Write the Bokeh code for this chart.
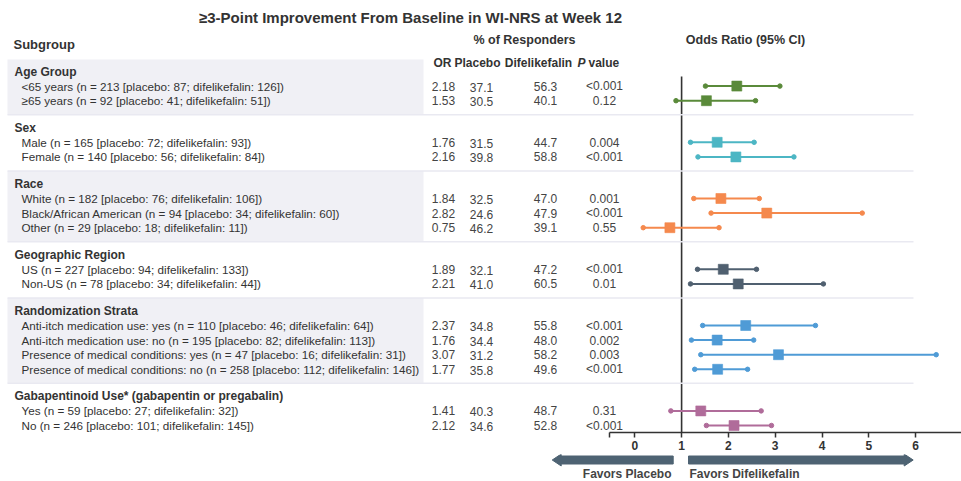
from bokeh.plotting import figure
from bokeh.models import Range1d, LinearAxis, FixedTicker
from bokeh.layouts import column
from bokeh.embed import file_html
from bokeh.resources import INLINE
from bokeh.core.properties import value

# ---------------- data ----------------
title_text = "≥3-Point Improvement From Baseline in WI-NRS at Week 12"
group_names = ["Age Group", "Sex", "Race", "Geographic Region",
               "Randomization Strata", "Gabapentinoid Use* (gabapentin or pregabalin)"]
group_sizes = [2, 2, 3, 2, 4, 2]
group_colors = ["#5a8a3a", "#4cb6c4", "#f5894d", "#506070", "#4f9bd6", "#b06c9a"]
subgroups = [
    "<65 years (n = 213 [placebo: 87; difelikefalin: 126])",
    "≥65 years (n = 92 [placebo: 41; difelikefalin: 51])",
    "Male (n = 165 [placebo: 72; difelikefalin: 93])",
    "Female (n = 140 [placebo: 56; difelikefalin: 84])",
    "White (n = 182 [placebo: 76; difelikefalin: 106])",
    "Black/African American (n = 94 [placebo: 34; difelikefalin: 60])",
    "Other (n = 29 [placebo: 18; difelikefalin: 11])",
    "US (n = 227 [placebo: 94; difelikefalin: 133])",
    "Non-US (n = 78 [placebo: 34; difelikefalin: 44])",
    "Anti-itch medication use: yes (n = 110 [placebo: 46; difelikefalin: 64])",
    "Anti-itch medication use: no (n = 195 [placebo: 82; difelikefalin: 113])",
    "Presence of medical conditions: yes (n = 47 [placebo: 16; difelikefalin: 31])",
    "Presence of medical conditions: no (n = 258 [placebo: 112; difelikefalin: 146])",
    "Yes (n = 59 [placebo: 27; difelikefalin: 32])",
    "No (n = 246 [placebo: 101; difelikefalin: 145])",
]
odds_ratio = [2.18, 1.53, 1.76, 2.16, 1.84, 2.82, 0.75, 1.89, 2.21, 2.37, 1.76, 3.07, 1.77, 1.41, 2.12]
ci_low = [1.51, 0.88, 1.19, 1.35, 1.26, 1.63, 0.18, 1.34, 1.19, 1.45, 1.21, 1.41, 1.28, 0.77, 1.53]
ci_high = [3.10, 2.58, 2.55, 3.40, 2.66, 4.86, 1.80, 2.60, 4.03, 3.86, 2.54, 6.44, 2.41, 2.70, 2.92]
pct_placebo = [37.1, 30.5, 31.5, 39.8, 32.5, 24.6, 46.2, 32.1, 41.0, 34.8, 34.4, 31.2, 35.8, 40.3, 34.6]
pct_difelikefalin = [56.3, 40.1, 44.7, 58.8, 47.0, 47.9, 39.1, 47.2, 60.5, 55.8, 48.0, 58.2, 49.6, 48.7, 52.8]
p_values = ["<0.001", "0.12", "0.004", "<0.001", "0.001", "<0.001", "0.55", "<0.001", "0.01",
            "<0.001", "0.002", "0.003", "<0.001", "0.31", "<0.001"]
x_ticks = [0, 1, 2, 3, 4, 5, 6, 7]

# ---------------- layout constants (screen pixels) ----------------
FONT = "Liberation Sans"
W, H_TOP, H_BOT = 961, 454, 27
FRAME_BOTTOM = 432
ORIGIN_PX, UNIT_PX = 634.3, 46.8


def px_to_or(px):
    return (px - ORIGIN_PX) / UNIT_PX


row_step, group_gap = 14.6, 12.4
header_y, item_y, seps, item_colors = [], [], [], []
y = 71.0
for n, c in zip(group_sizes, group_colors):
    header_y.append(y)
    for k in range(n):
        item_y.append(y + row_step * (k + 1))
        item_colors.append(c)
    last = y + row_step * n
    seps.append(last + 14)
    y = last + row_step + group_gap

band_tops = [header_y[0] - 12] + seps[:-1]
band_bottoms = seps

p = figure(width=W, height=H_TOP,
           x_range=Range1d(px_to_or(0), px_to_or(W)),
           y_range=Range1d(FRAME_BOTTOM, 0),
           x_axis_location=None, y_axis_location=None,
           toolbar_location=None, output_backend="svg",
           min_border_left=0, min_border_right=0, min_border_top=0,
           min_border_bottom=H_TOP - FRAME_BOTTOM)
p.extra_x_ranges = {"px": Range1d(0, W)}
p.outline_line_color = None
p.grid.visible = False
p.background_fill_color = "white"
p.border_fill_color = "white"

# shaded bands (alternate groups)
gi = [0, 2, 4]
p.quad(left=[7] * len(gi), right=[423] * len(gi),
       top=[band_tops[i] for i in gi], bottom=[band_bottoms[i] for i in gi],
       x_range_name="px", fill_color="#f0f0f5", line_color=None)

# reference line at OR = 1
p.segment(x0=[1], x1=[1], y0=[76], y1=[FRAME_BOTTOM], line_color="#333333", line_width=1.6)

# separators
p.segment(x0=[7] * (len(seps) - 1), x1=[913] * (len(seps) - 1), y0=seps[:-1], y1=seps[:-1],
          x_range_name="px", line_color="#e9e9f1", line_width=1.5)

# CIs and points
p.segment(x0=ci_low, x1=ci_high, y0=item_y, y1=item_y, line_color=item_colors, line_width=2)
p.scatter(ci_low, item_y, marker="circle", size=4.5, color=item_colors)
p.scatter(ci_high, item_y, marker="circle", size=4.5, color=item_colors)
p.scatter(odds_ratio, item_y, marker="square", size=10, fill_color=item_colors,
          line_color=item_colors, line_alpha=0.6)

txt = dict(x_range_name="px", text_font=value(FONT), text_baseline="middle")

p.text(x=[410], y=[17], text=[title_text], text_font_size="15px", text_font_style="bold",
       text_align="center", text_color="#333333", **txt)
p.text(x=[13], y=[44], text=["Subgroup"], text_font_size="13px", text_font_style="bold",
       text_align="left", text_color="#333333", **txt)
p.text(x=[524, 745], y=[39, 39], text=["% of Responders", "Odds Ratio (95% CI)"],
       text_font_size="12.5px", text_font_style="bold", text_align="center",
       text_color="#333333", **txt)
p.text(x=[442, 477, 538], y=[62] * 3, text=["OR", "Placebo", "Difelikefalin"],
       text_font_size="12px", text_font_style="bold", text_align="center",
       text_color="#333333", **txt)
p.text(x=[577], y=[62], text=["P"], text_font_size="12px", text_font_style="bold italic",
       text_align="left", text_color="#333333", **txt)
p.text(x=[588], y=[62], text=["value"], text_font_size="12px", text_font_style="bold",
       text_align="left", text_color="#333333", **txt)

p.text(x=[14] * len(group_names), y=header_y, text=group_names, text_font_size="12px",
       text_font_style="bold", text_align="left", text_color="#333333", **txt)
p.text(x=[21] * len(subgroups), y=item_y, text=subgroups, text_font_size="11.7px",
       text_align="left", text_color="#333333", **txt)

p.text(x=[443] * len(odds_ratio), y=item_y, text=[f"{v:.2f}" for v in odds_ratio],
       text_font_size="12px", text_align="center", text_color="#444444", **txt)
p.text(x=[481] * len(pct_placebo), y=[v + 1 for v in item_y], text=[f"{v:.1f}" for v in pct_placebo],
       text_font_size="12px", text_align="center", text_color="#444444", **txt)
p.text(x=[545] * len(pct_difelikefalin), y=item_y, text=[f"{v:.1f}" for v in pct_difelikefalin],
       text_font_size="12px", text_align="center", text_color="#444444", **txt)
p.text(x=[604] * len(p_values), y=item_y, text=p_values,
       text_font_size="12px", text_align="center", text_color="#444444", **txt)

ax = LinearAxis(ticker=FixedTicker(ticks=x_ticks, minor_ticks=[-0.54]),
                bounds=(-0.54, px_to_or(W)))
ax.axis_line_color = "#333333"
ax.axis_line_width = 1.5
ax.major_tick_in = 0
ax.major_tick_out = 5
ax.minor_tick_in = 0
ax.minor_tick_out = 5
ax.major_tick_line_color = "#333333"
ax.major_tick_line_width = 1.5
ax.minor_tick_line_color = "#333333"
ax.minor_tick_line_width = 1.5
ax.major_label_standoff = 3
ax.major_label_text_font = FONT
ax.major_label_text_font_size = "12px"
ax.major_label_text_font_style = "bold"
ax.major_label_text_color = "#333333"
p.add_layout(ax, "below")

# ---------------- bottom strip: favours arrows ----------------
q = figure(width=W, height=H_BOT, x_range=p.x_range, y_range=Range1d(H_TOP + H_BOT, H_TOP),
           x_axis_location=None, y_axis_location=None,
           toolbar_location=None, output_backend="svg",
           min_border_left=0, min_border_right=0, min_border_top=0, min_border_bottom=0)
q.outline_line_color = None
q.grid.visible = False

ay, shaft, head, hl = 459.5, 4, 6, 9 / UNIT_PX
l_tail, l_tip = px_to_or(672.7), px_to_or(551.7)
r_tail, r_tip = px_to_or(688), px_to_or(912.7)
xs = [
    [l_tail, l_tip + hl, l_tip + hl, l_tip, l_tip + hl, l_tip + hl, l_tail],
    [r_tail, r_tip - hl, r_tip - hl, r_tip, r_tip - hl, r_tip - hl, r_tail],
]
ys = [
    [ay - shaft, ay - shaft, ay - head, ay, ay + head, ay + shaft, ay + shaft],
    [ay - shaft, ay - shaft, ay - head, ay, ay + head, ay + shaft, ay + shaft],
]
q.patches(xs, ys, fill_color="#4e6373", line_color="#4e6373")
q.text(x=[px_to_or(671)], y=[473], text=["Favors Placebo"], text_font=value(FONT),
       text_font_size="12px", text_font_style="bold", text_align="right",
       text_baseline="middle", text_color="#444444")
q.text(x=[px_to_or(689)], y=[473], text=["Favors Difelikefalin"], text_font=value(FONT),
       text_font_size="12px", text_font_style="bold", text_align="left",
       text_baseline="middle", text_color="#444444")

layout = column(p, q)
open("out.html", "w").write(file_html(layout, INLINE))
